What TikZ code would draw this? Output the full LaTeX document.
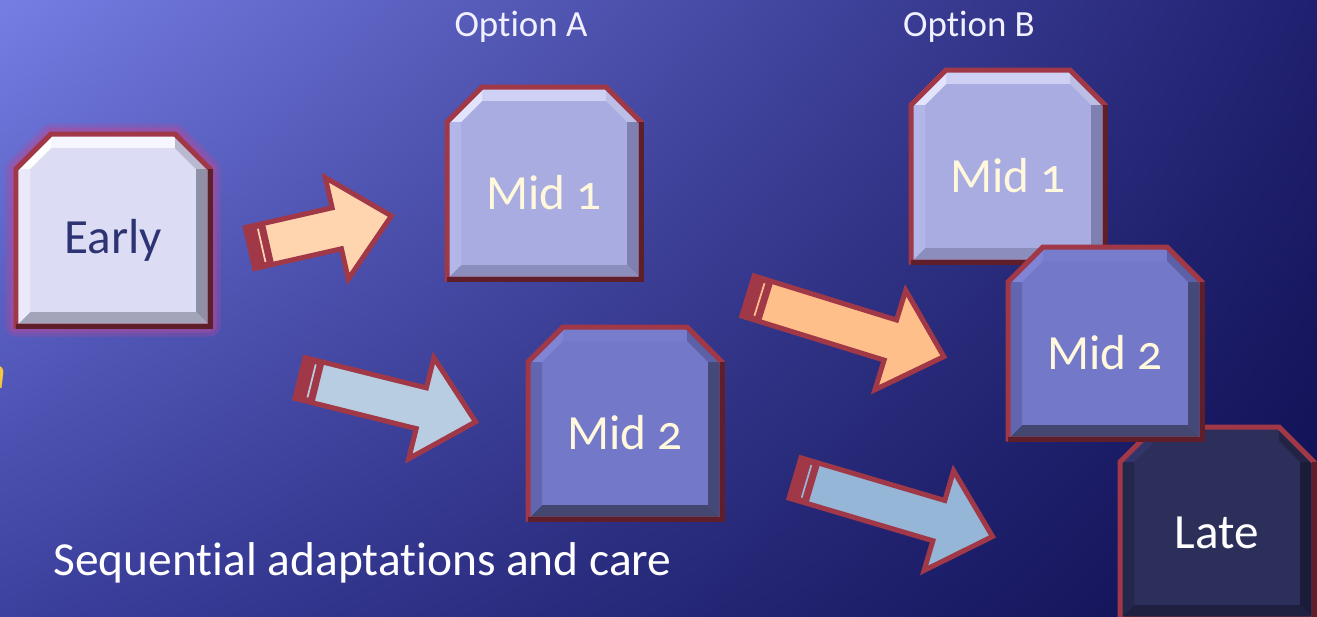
\documentclass[tikz,border=0pt]{standalone}
\usepackage{fontspec}
\setmainfont{Carlito}[Numbers=OldStyle,Ligatures=NoCommon]
\usetikzlibrary{calc,shadings}
% background corners
\definecolor{bgul}{RGB}{118,126,228}
\definecolor{bgur}{RGB}{32,32,112}
\definecolor{bgll}{RGB}{60,64,158}
\definecolor{bglr}{RGB}{14,14,80}
% rims
\definecolor{rimred}{HTML}{A13847}
\definecolor{rimdark}{HTML}{5E1E2A}
\definecolor{glowc}{HTML}{B04A9C}
\definecolor{hintyellow}{HTML}{F5C842}
% box kinds
\definecolor{earlyfill}{HTML}{DCDCF5}
\definecolor{earlytop}{HTML}{F6F6FF}
\definecolor{earlytl}{HTML}{FFFFFF}
\definecolor{earlytr}{HTML}{B9B9CF}
\definecolor{earlyleft}{HTML}{E9E9F9}
\definecolor{earlyright}{HTML}{8F8FA6}
\definecolor{earlybot}{HTML}{A3A3BA}
\definecolor{earlytext}{HTML}{2E3472}
\definecolor{midonefill}{HTML}{A9ACE1}
\definecolor{midonetop}{HTML}{CFD1F4}
\definecolor{midonetl}{HTML}{E2E4FB}
\definecolor{midonetr}{HTML}{BCBEE6}
\definecolor{midoneleft}{HTML}{B3B6E8}
\definecolor{midoneright}{HTML}{7E80B0}
\definecolor{midonebot}{HTML}{8B8DBD}
\definecolor{midonetext}{HTML}{FFF8DC}
\definecolor{midtwofill}{HTML}{7478C9}
\definecolor{midtwotop}{HTML}{787CCC}
\definecolor{midtwotl}{HTML}{8084D4}
\definecolor{midtwotr}{HTML}{5C60A6}
\definecolor{midtwoleft}{HTML}{6266B0}
\definecolor{midtworight}{HTML}{45497A}
\definecolor{midtwobot}{HTML}{43466F}
\definecolor{midtwotext}{HTML}{FFF8DC}
\definecolor{latefill}{HTML}{2D2F5B}
\definecolor{latetop}{HTML}{2D2F5B}
\definecolor{latetl}{HTML}{33356A}
\definecolor{latetr}{HTML}{222446}
\definecolor{lateleft}{HTML}{24264C}
\definecolor{lateright}{HTML}{1B1C3A}
\definecolor{latebot}{HTML}{1F203F}
\definecolor{latetext}{HTML}{FFFFFF}
% arrows
\definecolor{peach}{HTML}{FFD5B0}
\definecolor{apricot}{HTML}{FFBF8A}
\definecolor{paleblue}{HTML}{B8CDE2}
\definecolor{steelblue}{HTML}{95B6D6}

% #1 kind, #2 name, #3 x, #4 y, #5 text
\newcommand\stagebox[5]{%
  \begin{scope}[shift={(#3,#4)}]
    \fill[#1fill] (-97,-61) -- (-62,-96) -- (62,-96) -- (97,-61) -- (97,96) -- (-97,96) -- cycle;
    \fill[#1top] (-62,-96) -- (62,-96) -- (62,-82) -- (-62,-82) -- cycle;
    \fill[#1tl] (-97,-61) -- (-62,-96) -- (-62,-82) -- (-83,-61) -- cycle;
    \fill[#1tr] (62,-96) -- (97,-61) -- (83,-61) -- (62,-82) -- cycle;
    \fill[#1right] (97,-61) -- (97,96) -- (83,82) -- (83,-61) -- cycle;
    \fill[#1bot] (97,96) -- (-97,96) -- (-83,82) -- (83,82) -- cycle;
    \fill[#1left] (-97,96) -- (-97,-61) -- (-83,-61) -- (-83,82) -- cycle;
    \draw[rim] (-97,-61) -- (-62,-96) -- (62,-96) -- (97,-61) -- (97,96) -- (-97,96) -- cycle;
    \draw[rim,draw=rimdark] (97,-61) -- (97,96) -- (-97,96);
  \end{scope}
  \node[stagelabel,text=#1text] (#2) at (#3,#4) [yshift=-0.2cm] {#5};
}

% #1 name, #2 x, #3 y, #4 angle, #5 length, #6 fill
\newcommand\blockarrow[6]{%
  \begin{scope}[shift={(#2,#3)},rotate=#4]
    \coordinate (#1-tail) at (0,0);
    \coordinate (#1-tip) at (#5,0);
    \fill[#6] (0,-21) -- ({#5-56},-21) -- ({#5-56},-52) -- (#1-tip)
      -- ({#5-56},52) -- ({#5-56},21) -- (0,21) -- cycle;
    \fill[rimred] (0,-21) rectangle (20,21);
    \draw[#6,line width=0.035cm] (12,-17) -- (12,17);
    \draw[rim] (0,-21) -- ({#5-56},-21) -- ({#5-56},-52) -- (#1-tip)
      -- ({#5-56},52) -- ({#5-56},21) -- (0,21) -- cycle;
  \end{scope}
}

\begin{document}
\begin{tikzpicture}[x=0.02cm,y=-0.02cm,
  rim/.style={line width=0.1cm,draw=rimred,line join=miter},
  stagelabel/.style={font=\fontsize{28}{32}\selectfont,inner sep=0pt},
  optlabel/.style={font=\fontsize{21}{25}\selectfont,text=white!94!blue,inner sep=0pt,anchor=base}]
  \useasboundingbox (0,0) rectangle (1317,616);
  \clip (0,0) rectangle (1317,616);
  \shade[upper left=bgul,upper right=bgur,lower left=bgll,lower right=bglr] (0,0) rectangle (1317,616);

  % glow round the first stage
  \begin{scope}[shift={(113,230)}]
    \draw[glowc,line width=0.42cm,opacity=0.3,line join=round] (-97,-61) -- (-62,-96) -- (62,-96) -- (97,-61) -- (97,96) -- (-97,96) -- cycle;
    \draw[glowc,line width=0.26cm,opacity=0.45,line join=round] (-97,-61) -- (-62,-96) -- (62,-96) -- (97,-61) -- (97,96) -- (-97,96) -- cycle;
  \end{scope}

  \stagebox{early}{early}{113}{230}{Early}
  \stagebox{midone}{aone}{544}{183}{Mid 1}
  \stagebox{midtwo}{atwo}{625}{423}{Mid 2}
  \stagebox{midone}{bone}{1008}{166}{Mid 1}
  \stagebox{late}{late}{1217}{523}{Late}
  \stagebox{midtwo}{btwo}{1105}{343}{Mid 2}

  \node[optlabel] (opta) at (521,36) {Option A};
  \node[optlabel] (optb) at (969,36) {Option B};

  \blockarrow{toaone}{250}{248}{12.8}{145}{peach}
  \blockarrow{toatwo}{300}{378}{-14}{181}{paleblue}
  \blockarrow{tobtwo}{748}{296}{-17.2}{205}{apricot}
  \blockarrow{tolate}{795}{478}{-16.5}{206}{steelblue}

  \node[anchor=base east,text=hintyellow,font=\itshape\fontsize{26}{30}\selectfont,inner sep=0pt] (cutword) at (6,388) {n};
  \node[anchor=base west,text=white,font=\fontsize{27}{32}\selectfont,inner sep=0pt] (caption) at (53,575) {Sequential adaptations and care};
\end{tikzpicture}
\end{document}
